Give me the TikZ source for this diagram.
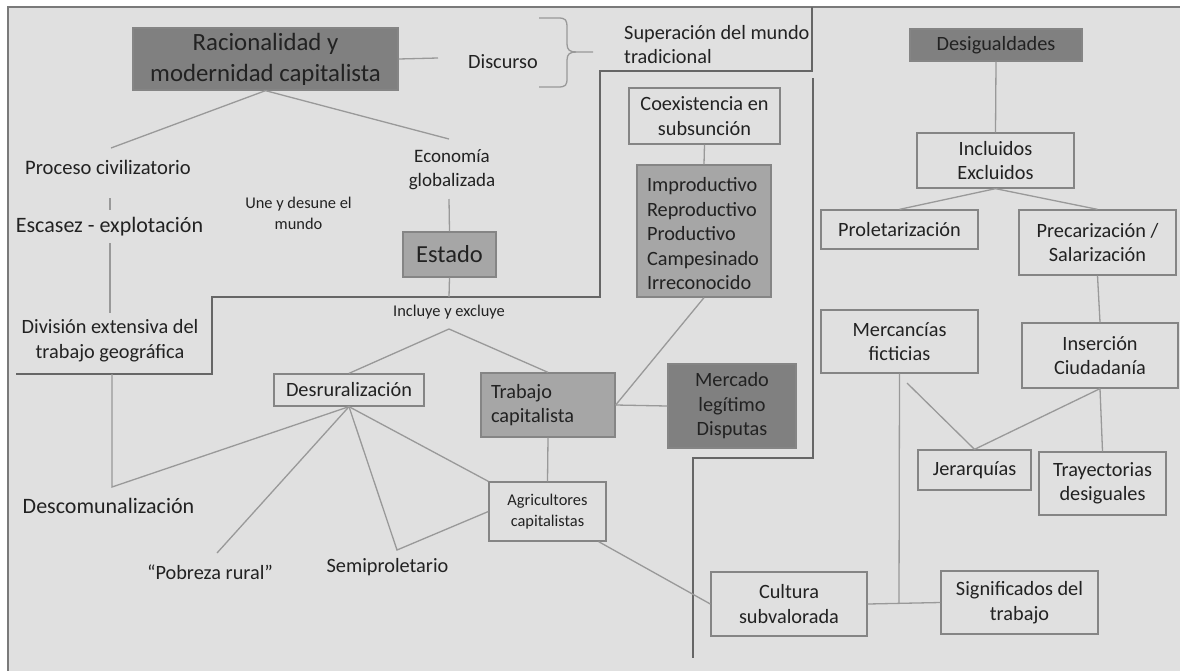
\documentclass[tikz,border=0pt]{standalone}
\usepackage{fontspec}
\setmainfont{Carlito}
\definecolor{bg}{HTML}{E0E0E0}
\definecolor{frame}{HTML}{7A7A7A}
\definecolor{tx}{HTML}{222222}
\definecolor{mgrey}{HTML}{A6A6A6}
\definecolor{dgrey}{HTML}{808080}
\definecolor{bline}{HTML}{858585}
\definecolor{cline}{HTML}{999999}
\definecolor{wline}{HTML}{666666}
\newcommand{\fA}{\fontsize{20.3}{24.5}\selectfont}
\newcommand{\fB}{\fontsize{24.8}{31}\selectfont}
\newcommand{\fC}{\fontsize{16.4}{21}\selectfont}
\begin{document}
\begin{tikzpicture}[x=1pt,y=-1pt,
  every node/.style={text=tx, inner sep=0pt, font=\fA},
  box/.style={draw=bline, line width=1.3pt, align=center},
  lbox/.style={box},
  mbox/.style={box, fill=mgrey},
  dbox/.style={box, fill=dgrey},
  con/.style={draw=cline, line width=1.3pt},
  wall/.style={draw=wline, line width=1.8pt}]
\useasboundingbox (0,0) rectangle (1180,670);
\clip (0,0) rectangle (1180,670);
\fill[white] (0,0) rectangle (1180,670);
\draw[fill=bg, draw=frame, line width=2pt] (8,7) rectangle (1195,690);

% ---------- boxes ----------
\node[dbox, minimum width=265pt, minimum height=62pt, font=\fB] (rac) at (265.5,59) {Racionalidad y\\modernidad capitalista};
\node[lbox, minimum width=151pt, minimum height=56pt] (coex) at (704.5,116) {Coexistencia en\\subsunción};
\node[mbox, minimum width=134pt, minimum height=132pt] (impr) at (704,231) {};
\node[text width=114pt, align=left] (imprt) at (704,234) {Improductivo\\Reproductivo\\Productivo\\Campesinado\\Irreconocido};
\node[mbox, minimum width=93pt, minimum height=45pt, font=\fontsize{24.5}{28}\selectfont] (estado) at (449.5,254.5) {Estado};
\node[mbox, minimum width=134pt, minimum height=64pt, text width=114pt, align=left] (trab) at (548,405) {Trabajo\\capitalista};
\node[dbox, minimum width=128pt, minimum height=84pt] (merc) at (732,406) {Mercado\\legítimo\\Disputas};
\node[lbox, minimum width=150pt, minimum height=32pt] (desr) at (349,390) {Desruralización};
\node[lbox, minimum width=117pt, minimum height=59pt, font=\fC] (agri) at (547.5,511.5) {Agricultores\\capitalistas};
\node[lbox, minimum width=156pt, minimum height=64pt] (cult) at (789,604) {Cultura\\subvalorada};
\node[lbox, minimum width=157pt, minimum height=63pt] (sign) at (1019.5,602.5) {Significados del\\trabajo};
\node[dbox, minimum width=172pt, minimum height=32pt] (desig) at (996,45) {Desigualdades};
\node[lbox, minimum width=157pt, minimum height=55pt] (incl) at (995.5,160.5) {Incluidos\\Excluidos};
\node[lbox, minimum width=157pt, minimum height=39pt] (prol) at (899.5,229.5) {Proletarización};
\node[lbox, minimum width=157pt, minimum height=65pt] (prec) at (1097.5,242.5) {Precarización /\\Salarización};
\node[lbox, minimum width=157pt, minimum height=63pt] (merca) at (899.5,341.5) {Mercancías\\ficticias};
\node[lbox, minimum width=156pt, minimum height=65pt] (inse) at (1100,355.5) {Inserción\\Ciudadanía};
\node[lbox, minimum width=113pt, minimum height=40pt] (jera) at (974.5,470) {Jerarquías};
\node[lbox, minimum width=127pt, minimum height=63pt] (tray) at (1102.5,483.5) {Trayectorias\\desiguales};

% ---------- free texts ----------
\node (disc) at (503,62) {Discurso};
\node[anchor=west, align=left] (sup) at (624,44.5) {Superación del mundo\\tradicional};
\node[font=\fontsize{20.6}{24}\selectfont] (proc) at (108,167) {Proceso civilizatorio};
\node[font=\fontsize{22}{26}\selectfont] (esc) at (109.5,227) {Escasez - explotación};
\node[font=\fC, align=center] (une) at (298.5,213.5) {Une y desune el\\mundo};
\node[align=center, font=\fontsize{19}{24}\selectfont] (econ) at (452,170) {Economía\\globalizada};
\node[align=center] (divi) at (110,340.5) {División extensiva del\\trabajo geográfica};
\node[font=\fC] (inclu) at (449,312) {Incluye y excluye};
\node[font=\fontsize{22}{26}\selectfont] (descom) at (108.5,506) {Descomunalización};
\node (pobr) at (210,572) {“Pobreza rural”};
\node (semi) at (387.5,567) {Semiproletario};

% ---------- free connector ends ----------
\coordinate (discL) at (438,58);
\coordinate (procT) at (111,148);
\coordinate (econT) at (449,139);
\coordinate (procB) at (110,198);
\coordinate (escT) at (110,210);
\coordinate (escB) at (110,243);
\coordinate (divT) at (110,313);
\coordinate (econB) at (449,199);
\coordinate (wallS) at (449,297);
\coordinate (fanI) at (449,329);
\coordinate (descV) at (112,487);
\coordinate (divB) at (112,374);
\coordinate (pobT) at (217,553);
\coordinate (semV) at (397,550);
\coordinate (junc) at (899,603);
\coordinate (mercB) at (907,383);

% ---------- walls ----------
\draw[wall] (16,374) -- (212,374) -- (212,297) -- (600,297) -- (600,71) -- (812,71) -- (812,7);
\draw[wall] (813,78) -- (813,458) -- (693,458) -- (693,658);

% ---------- brace ----------
\draw[con] (539,18) -- (558,18) .. controls (566,18) and (567,20) .. (567,28) -- (567,44)
  .. controls (567,50) and (570,52) .. (576,52) -- (593,52);
\draw[con] (576,52) .. controls (570,52) and (567,54) .. (567,60) -- (567,78)
  .. controls (567,85) and (566,87) .. (558,87) -- (539,87);

% ---------- connectors ----------
\draw[con] (rac.east) -- (discL);
\draw[con] (rac.south) -- (procT);
\draw[con] (rac.south) -- (econT);
\draw[con] (procB) -- (escT);
\draw[con] (escB) -- (divT);
\draw[con] (econB) -- (estado.north);
\draw[con] (estado.south) -- (wallS);
\draw[con] (desr.north) -- (fanI) -- (trab.north);
\draw[con] (coex.south) -- (impr.north);
\draw[con] (impr.south) -- (trab.east);
\draw[con] (trab.east) -- (merc.west);
\draw[con] (trab.south) -- (agri.north);
\draw[con] (divB) -- (descV) -- (desr.south);
\draw[con] (desr.south) -- (pobT);
\draw[con] (desr.south) -- (semV) -- (agri.west);
\draw[con] (desr.south) -- (agri.north west);
\draw[con] ([xshift=-8pt]agri.south east) -- (cult.west);
\draw[con] (cult.east) -- (sign.west);
\draw[con] (merca.south) -- (junc);
\draw[con] (mercB) -- (jera.north) -- (inse.south);
\draw[con] (inse.south) -- (tray.north);
\draw[con] (prec.south) -- (inse.north);
\draw[con] (incl.south) -- (prol.north);
\draw[con] (incl.south) -- (prec.north);
\draw[con] (desig.south) -- (incl.north);
\end{tikzpicture}
\end{document}
